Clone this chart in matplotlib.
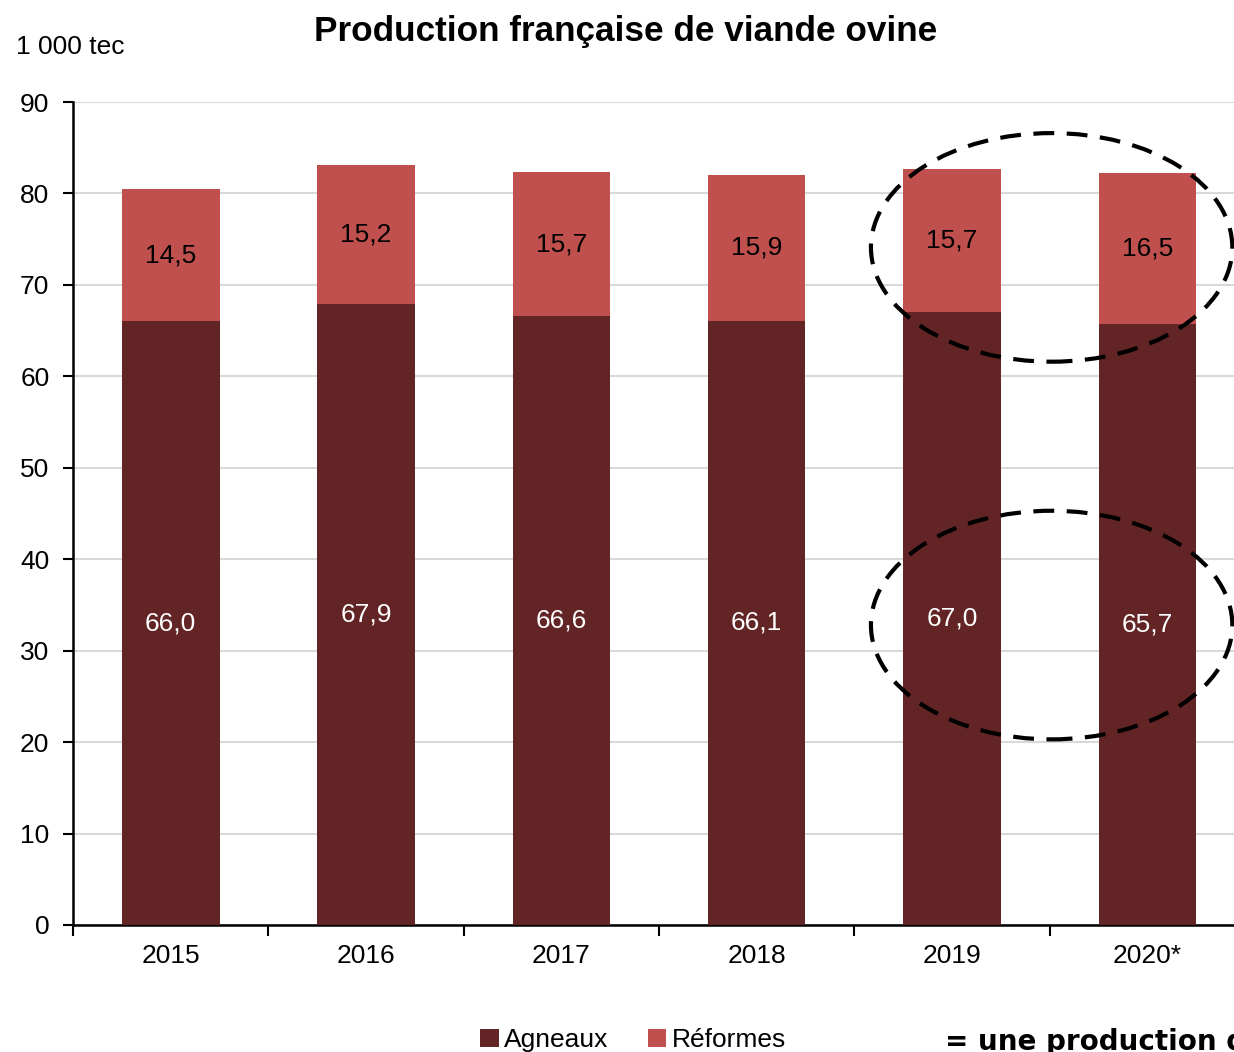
import matplotlib
matplotlib.use("Agg")
import matplotlib.pyplot as plt
from matplotlib.patches import Ellipse, Patch
import numpy as np

plt.rcParams['font.family'] = ['Liberation Sans', 'DejaVu Sans']

years = ["2015", "2016", "2017", "2018", "2019", "2020*"]
agneaux = [66.0, 67.9, 66.6, 66.1, 67.0, 65.7]
reformes = [14.5, 15.2, 15.7, 15.9, 15.7, 16.5]

c_agn = "#622424"
c_ref = "#C0504D"

fig = plt.figure(figsize=(12.34, 10.52), dpi=100)
ax = fig.add_axes([73/1234, 127/1052, (1245-73)/1234, (925-102)/1052])

x = np.arange(len(years))
w = 0.5
ax.bar(x, agneaux, w, color=c_agn, zorder=3)
ax.bar(x, reformes, w, bottom=agneaux, color=c_ref, zorder=3)

def fmt(v):
    return f"{v:.1f}".replace(".", ",")

for i in range(len(years)):
    ax.text(x[i], agneaux[i] / 2, fmt(agneaux[i]), ha='center', va='center',
            color='white', fontsize=19, zorder=4)
    ax.text(x[i], agneaux[i] + reformes[i] / 2, fmt(reformes[i]), ha='center',
            va='center', color='black', fontsize=19, zorder=4)

ax.set_xlim(-0.5, 5.5)
ax.set_ylim(0, 90)
ax.set_yticks(np.arange(0, 91, 10))
ax.yaxis.grid(True, color="#D9D9D9", linewidth=1.5, zorder=0)
ax.set_axisbelow(True)
ax.set_xticks(x)
ax.set_xticklabels(years)
ax.set_xticks(np.arange(-0.5, 5.6, 1), minor=True)
ax.tick_params(axis='x', which='major', length=0, labelsize=19, pad=14)
ax.tick_params(axis='x', which='minor', length=8, width=1.5, direction='out')
ax.tick_params(axis='y', length=7, width=1.5, labelsize=19, pad=10)
for s in ['top', 'right']:
    ax.spines[s].set_visible(False)
for s in ['left', 'bottom']:
    ax.spines[s].set_linewidth(1.8)

# dashed ellipses
for yc in (74.1, 32.8):
    e = Ellipse((4.51, yc), 1.85, 25.0, fill=False, edgecolor='black',
                linestyle=(0, (5, 3)), linewidth=3, zorder=5, clip_on=False)
    ax.add_patch(e)

fig.text(626/1234, 1 - 31/1052, "Production française de viande ovine",
         ha='center', va='center', fontsize=25.3, fontweight='bold')
fig.text(16/1234, 1 - 47/1052, "1 000 tec", ha='left', va='center', fontsize=19)

handles = [Patch(facecolor=c_agn), Patch(facecolor=c_ref)]
fig.legend(handles, ["Agneaux", "Réformes"], loc='center',
           bbox_to_anchor=(633/1234, 1 - 1040/1052), ncol=2, frameon=False,
           fontsize=19, handlelength=0.7, handleheight=0.7, handletextpad=0.2,
           columnspacing=1.5)

fig.text(945/1234, 1 - 1050/1052, "= une production d", ha='left', va='baseline',
         fontsize=20, fontweight='bold', family=['DejaVu Sans'])

fig.savefig("out.png", dpi=100)
